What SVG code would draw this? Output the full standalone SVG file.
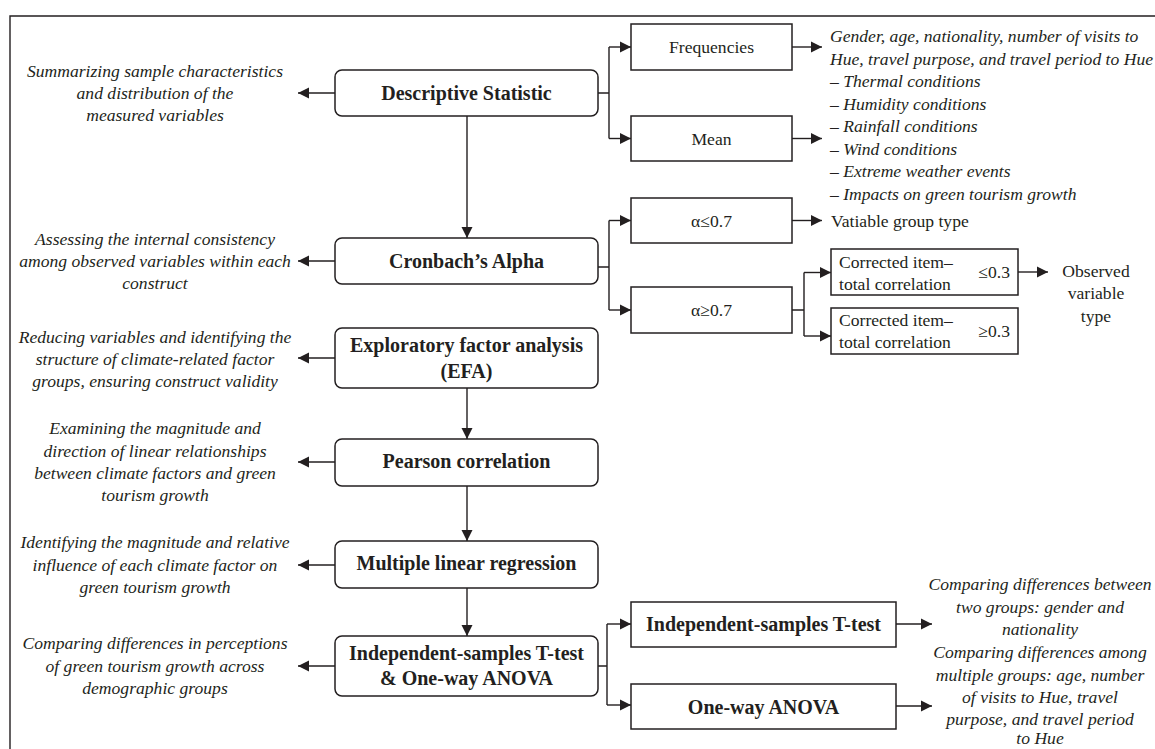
<svg xmlns="http://www.w3.org/2000/svg" width="1155" height="749" viewBox="0 0 1155 749">
<style>
text{font-family:"Liberation Serif","Times New Roman",serif;fill:#231f20}
.b{font-size:20px;font-weight:bold;text-anchor:middle}
.r{font-size:17.6px}
.rc{font-size:17.6px;text-anchor:middle}
.i{font-size:17.6px;font-style:italic;text-anchor:middle}
.il{font-size:17.6px;font-style:italic}
.box{fill:#fff;stroke:#231f20;stroke-width:1.5}
.ln{fill:none;stroke:#231f20;stroke-width:1.4}
.ar{fill:none;stroke:#231f20;stroke-width:1.4;marker-end:url(#ah)}
</style>
<defs>
<marker id="ah" markerUnits="userSpaceOnUse" markerWidth="12" markerHeight="12" refX="11" refY="6" orient="auto">
<path d="M0,0.5 L11,6 L0,11.5 z" fill="#231f20"/>
</marker>
</defs>
<rect x="0" y="0" width="1155" height="749" fill="#fff"/>
<path d="M10,749 L10,16 L1155,16" class="ln"/>

<g id="connectors">
<path d="M335,93 H298" class="ar"/>
<path d="M335,261 H298" class="ar"/>
<path d="M335,358 H298" class="ar"/>
<path d="M335,462 H298" class="ar"/>
<path d="M335,565 H298" class="ar"/>
<path d="M335,666 H298" class="ar"/>
<path d="M467,116 V238" class="ar"/>
<path d="M467,388 V439" class="ar"/>
<path d="M467,486 V541" class="ar"/>
<path d="M467,588 V636" class="ar"/>
<path d="M598,93 H609 M609,47 V138.5" class="ln"/>
<path d="M609,47 H631" class="ar"/>
<path d="M609,138.5 H631" class="ar"/>
<path d="M598,267 H609 M609,220.5 V310" class="ln"/>
<path d="M609,220.5 H631" class="ar"/>
<path d="M609,310 H631" class="ar"/>
<path d="M792,47 H822" class="ar"/>
<path d="M792,138.5 H822" class="ar"/>
<path d="M792,220.5 H822" class="ar"/>
<path d="M792,310 H804 M804,272.5 V336" class="ln"/>
<path d="M804,272.5 H831" class="ar"/>
<path d="M804,336 H831" class="ar"/>
<path d="M1018,272 H1048" class="ar"/>
<path d="M598,666 H607 M607,624 V705" class="ln"/>
<path d="M607,624 H631" class="ar"/>
<path d="M607,705 H631" class="ar"/>
<path d="M896,624 H932" class="ar"/>
<path d="M896,706 H932" class="ar"/>
</g>

<g id="desc-note"><text class="i"><tspan x="155" y="77">Summarizing sample characteristics</tspan><tspan x="155" y="99">and distribution of the</tspan><tspan x="155" y="121">measured variables</tspan></text></g>
<g id="cron-note"><text class="i"><tspan x="155" y="245">Assessing the internal consistency</tspan><tspan x="155" y="267">among observed variables within each</tspan><tspan x="155" y="289">construct</tspan></text></g>
<g id="efa-note"><text class="i"><tspan x="155" y="343">Reducing variables and identifying the</tspan><tspan x="155" y="365">structure of climate-related factor</tspan><tspan x="155" y="387">groups, ensuring construct validity</tspan></text></g>
<g id="pearson-note"><text class="i"><tspan x="155" y="434">Examining the magnitude and</tspan><tspan x="155" y="456.5">direction of linear relationships</tspan><tspan x="155" y="479">between climate factors and green</tspan><tspan x="155" y="501">tourism growth</tspan></text></g>
<g id="mlr-note"><text class="i"><tspan x="155" y="548">Identifying the magnitude and relative</tspan><tspan x="155" y="571">influence of each climate factor on</tspan><tspan x="155" y="593">green tourism growth</tspan></text></g>
<g id="test-note"><text class="i"><tspan x="155" y="649">Comparing differences in perceptions</tspan><tspan x="155" y="672">of green tourism growth across</tspan><tspan x="155" y="694">demographic groups</tspan></text></g>

<g id="descriptive"><rect x="335" y="70" width="263" height="46" rx="7" class="box"/><text class="b" x="466.5" y="100">Descriptive Statistic</text></g>
<g id="cronbach"><rect x="335" y="238" width="263" height="46" rx="7" class="box"/><text class="b" x="466.5" y="268">Cronbach’s Alpha</text></g>
<g id="efa"><rect x="335" y="328" width="263" height="60" rx="7" class="box"/><text class="b"><tspan x="466.5" y="352">Exploratory factor analysis</tspan><tspan x="466.5" y="378">(EFA)</tspan></text></g>
<g id="pearson"><rect x="335" y="439" width="263" height="47" rx="7" class="box"/><text class="b" x="466.5" y="468">Pearson correlation</text></g>
<g id="mlr"><rect x="335" y="541" width="263" height="47" rx="7" class="box"/><text class="b" x="466.5" y="570">Multiple linear regression</text></g>
<g id="ttest-anova"><rect x="335" y="636" width="263" height="60" rx="7" class="box"/><text class="b"><tspan x="466.5" y="659.5">Independent-samples T-test</tspan><tspan x="466.5" y="685">&amp; One-way ANOVA</tspan></text></g>

<g id="frequencies"><rect x="631" y="24" width="161" height="46" class="box"/><text class="rc" x="711.5" y="53">Frequencies</text></g>
<g id="mean"><rect x="631" y="116" width="161" height="45" class="box"/><text class="rc" x="711.5" y="144.5">Mean</text></g>
<g id="alpha-low"><rect x="631" y="198" width="161" height="45" class="box"/><text class="rc" x="711.5" y="226.5">α≤0.7</text></g>
<g id="alpha-high"><rect x="631" y="287" width="161" height="46" class="box"/><text class="rc" x="711.5" y="316">α≥0.7</text></g>

<g id="desc-list"><text class="il"><tspan x="830" y="42">Gender, age, nationality, number of visits to</tspan><tspan x="830" y="64.5">Hue, travel purpose, and travel period to Hue</tspan><tspan x="830" y="87">– Thermal conditions</tspan><tspan x="830" y="109.5">– Humidity conditions</tspan><tspan x="830" y="132">– Rainfall conditions</tspan><tspan x="830" y="154.5">– Wind conditions</tspan><tspan x="830" y="177">– Extreme weather events</tspan><tspan x="830" y="199.5">– Impacts on green tourism growth</tspan></text></g>
<g id="group-type"><text class="r" x="831" y="226.5">Vatiable group type</text></g>

<g id="citc-low"><rect x="831" y="249" width="187" height="46" class="box"/><text class="r"><tspan x="839" y="267.5">Corrected item–</tspan><tspan x="839" y="289.5">total correlation</tspan></text><text class="r" x="1010" y="278" text-anchor="end">≤0.3</text></g>
<g id="citc-high"><rect x="831" y="308" width="187" height="46" class="box"/><text class="r"><tspan x="839" y="325.5">Corrected item–</tspan><tspan x="839" y="347.5">total correlation</tspan></text><text class="r" x="1010" y="337" text-anchor="end">≥0.3</text></g>
<g id="observed"><text class="rc"><tspan x="1096" y="277">Observed</tspan><tspan x="1096" y="299">variable</tspan><tspan x="1096" y="322">type</tspan></text></g>

<g id="ttest"><rect x="631" y="602" width="265" height="45" class="box"/><text class="b" x="763.5" y="631">Independent-samples T-test</text></g>
<g id="anova"><rect x="631" y="684" width="265" height="45" class="box"/><text class="b" x="763.5" y="713.5">One-way ANOVA</text></g>
<g id="ttest-note"><text class="i"><tspan x="1040" y="590">Comparing differences between</tspan><tspan x="1040" y="612.5">two groups: gender and</tspan><tspan x="1040" y="635">nationality</tspan></text></g>
<g id="anova-note"><text class="i"><tspan x="1040" y="658">Comparing differences among</tspan><tspan x="1040" y="680.5">multiple groups: age, number</tspan><tspan x="1040" y="702.5">of visits to Hue, travel</tspan><tspan x="1040" y="724.5">purpose, and travel period</tspan><tspan x="1040" y="744">to Hue</tspan></text></g>
</svg>
